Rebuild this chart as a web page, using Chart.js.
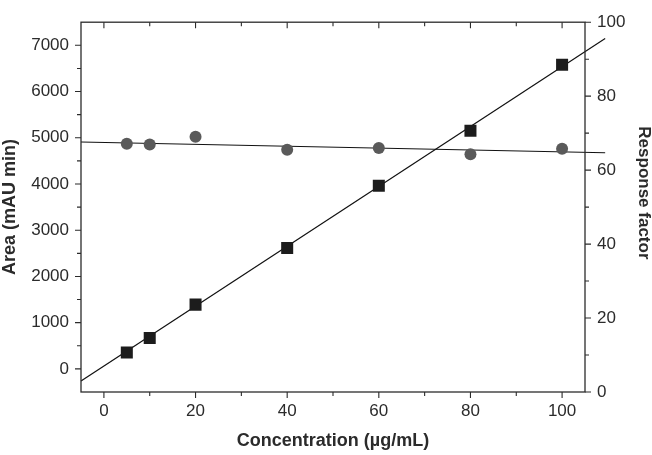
<!DOCTYPE html>
<html>
<head>
<meta charset="utf-8">
<title>Area and response factor vs concentration</title>
<script src="https://cdn.jsdelivr.net/npm/chart.js"></script>
<style>
  html, body { margin: 0; padding: 0; background: #fff; }
  #wrap { width: 652px; height: 455px; }
</style>
</head>
<body>
<div id="wrap"><canvas id="chart" width="652" height="455"></canvas></div>
<script>
// values
const concentration = [5, 10, 20, 40, 60, 80, 100];
const area = [355, 670, 1390, 2615, 3960, 5150, 6580];
const responseFactor = [67.1, 66.9, 69.0, 65.5, 66.0, 64.3, 65.8];

// fitted lines (end points)
const fitX = [-5, 109.4];
const areaFit = [-260, 7150];
const responseFit = [67.6, 64.7];

// tick labels
const xTicks = [0, 20, 40, 60, 80, 100];
const areaTicks = [0, 1000, 2000, 3000, 4000, 5000, 6000, 7000];
const responseTicks = [0, 20, 40, 60, 80, 100];

const ink = '#2b2b2b';
const font = 'Liberation Sans, Arial, Helvetica, sans-serif';

const pts = (xs, ys) => xs.map((x, i) => ({ x: x, y: ys[i] }));
const fixTicks = list => s => { s.ticks = list.map(v => ({ value: v })); };
const plain = v => String(v);

// frame plus major/minor tick marks
const frameTicks = {
    id: 'frameTicks',
    afterDraw(chart) {
        const ctx = chart.ctx;
        const a = chart.chartArea;
        const x = chart.scales.x, yl = chart.scales.y, yr = chart.scales.y2;
        ctx.save();
        ctx.strokeStyle = ink;
        ctx.lineWidth = 1.3;
        ctx.strokeRect(a.left, a.top, a.right - a.left, a.bottom - a.top);
        ctx.lineWidth = 1.1;
        ctx.beginPath();
        for (let v = 0; v <= 100; v += 10) {
            const px = x.getPixelForValue(v);
            const len = v % 20 === 0 ? 6 : 4;
            ctx.moveTo(px, a.bottom); ctx.lineTo(px, a.bottom + len);
            ctx.moveTo(px, a.top); ctx.lineTo(px, a.top + len);
        }
        for (let v = 0; v <= 7000; v += 500) {
            const py = yl.getPixelForValue(v);
            const len = v % 1000 === 0 ? 6 : 4;
            ctx.moveTo(a.left, py); ctx.lineTo(a.left - len, py);
        }
        for (let v = 0; v <= 100; v += 10) {
            const py = yr.getPixelForValue(v);
            const len = v % 20 === 0 ? 6 : 4;
            ctx.moveTo(a.right, py); ctx.lineTo(a.right + len, py);
        }
        ctx.stroke();
        ctx.restore();
    }
};

const tickFont = { family: font, size: 17 };
const titleFont = { family: font, size: 18, weight: 'bold', lineHeight: 1 };

new Chart(document.getElementById('chart'), {
    type: 'scatter',
    data: {
        datasets: [
            {
                label: 'Area',
                data: pts(concentration, area),
                yAxisID: 'y',
                pointStyle: 'rect',
                pointRadius: 8.5,
                backgroundColor: '#1c1c1c',
                borderColor: '#1c1c1c',
                borderWidth: 0,
                order: 1
            },
            {
                label: 'Response factor',
                data: pts(concentration, responseFactor),
                yAxisID: 'y2',
                pointStyle: 'circle',
                pointRadius: 6,
                backgroundColor: '#5a5a5a',
                borderColor: '#5a5a5a',
                borderWidth: 0,
                order: 2
            },
            {
                label: 'Area fit',
                data: pts(fitX, areaFit),
                yAxisID: 'y',
                showLine: true,
                pointRadius: 0,
                borderColor: '#111',
                borderWidth: 1.2,
                clip: false,
                order: 3
            },
            {
                label: 'Response fit',
                data: pts(fitX, responseFit),
                yAxisID: 'y2',
                showLine: true,
                pointRadius: 0,
                borderColor: '#111',
                borderWidth: 1.2,
                clip: false,
                order: 4
            }
        ]
    },
    options: {
        responsive: false,
        animation: false,
        layout: { padding: { top: 19, left: 0, right: 0, bottom: 0 } },
        plugins: {
            legend: { display: false },
            tooltip: { enabled: false }
        },
        scales: {
            x: {
                type: 'linear',
                position: 'bottom',
                min: -5,
                max: 105,
                grid: { display: false, drawTicks: false },
                border: { display: false },
                afterBuildTicks: fixTicks(xTicks),
                afterFit: s => { s.height = 63; },
                ticks: { padding: 9, color: ink, font: tickFont, callback: plain },
                title: {
                    display: true,
                    text: 'Concentration (µg/mL)',
                    color: ink,
                    font: titleFont,
                    padding: { top: 0, bottom: 5 }
                }
            },
            y: {
                type: 'linear',
                position: 'left',
                min: -500,
                max: 7500,
                grid: { display: false, drawTicks: false },
                border: { display: false },
                afterBuildTicks: fixTicks(areaTicks),
                afterFit: s => { s.width = 81; },
                ticks: { padding: 12, color: ink, font: tickFont, callback: plain },
                title: {
                    display: true,
                    text: 'Area (mAU min)',
                    color: ink,
                    font: titleFont,
                    padding: { top: 1, bottom: 0 }
                }
            },
            y2: {
                type: 'linear',
                position: 'right',
                min: 0,
                max: 100,
                grid: { display: false, drawTicks: false },
                border: { display: false },
                afterBuildTicks: fixTicks(responseTicks),
                afterFit: s => { s.width = 67; },
                ticks: { padding: 12, color: ink, font: tickFont, callback: plain },
                title: {
                    display: true,
                    // trailing spaces nudge the label up, as in the original
                    text: 'Response factor      ',
                    color: ink,
                    font: { family: font, size: 17, weight: 'bold', lineHeight: 1 },
                    padding: { top: 0, bottom: 0 }
                }
            }
        }
    },
    plugins: [frameTicks]
});
</script>
</body>
</html>
